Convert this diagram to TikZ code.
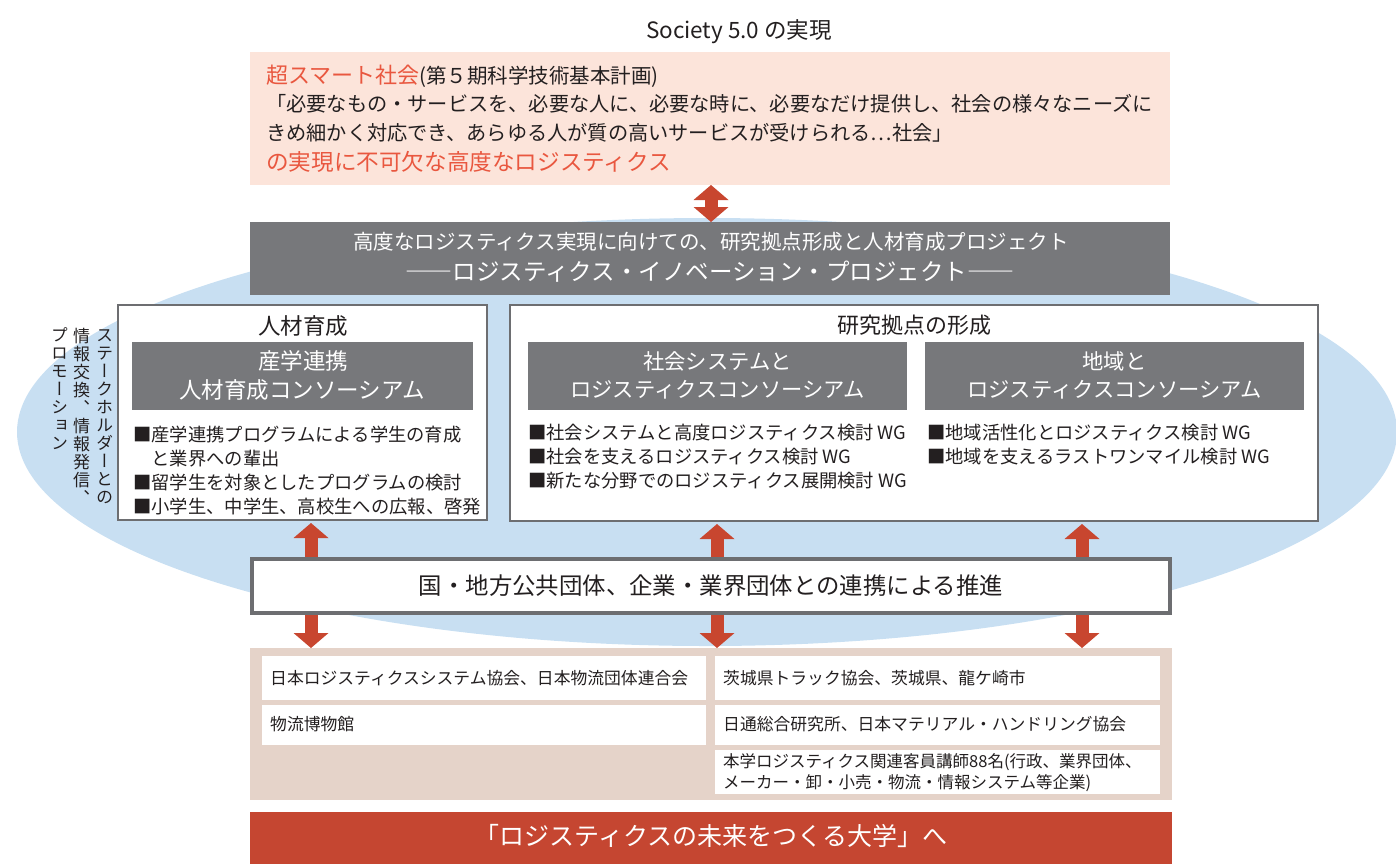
\documentclass[tikz,border=0pt]{standalone}
\usepackage{fontspec}
\usepackage{graphicx}
\setmainfont{Noto Sans CJK JP}
\newfontfamily\vjp[RawFeature=+vert]{Noto Sans CJK JP}
\usetikzlibrary{arrows.meta}
\definecolor{pinkbg}{HTML}{FCE4DA}
\definecolor{redtxt}{HTML}{E9573F}
\definecolor{arrred}{HTML}{C8462F}
\definecolor{graybox}{HTML}{77787B}
\definecolor{ellblue}{HTML}{C8DFF2}
\definecolor{beige}{HTML}{E5D3C9}
\definecolor{barred}{HTML}{C54631}
\definecolor{txt}{HTML}{231F20}
\definecolor{bordergray}{HTML}{6D6E71}
\newcommand\fsz[1]{\fontsize{#1}{#1}\selectfont}
\begin{document}
\begin{tikzpicture}[x=1pt,y=-1pt,
  rect/.style={inner sep=0pt, outer sep=0pt, rectangle},
  lbl/.style={inner sep=0pt, text=txt, anchor=west},
  clbl/.style={inner sep=0pt, text=txt, anchor=center},
  wlbl/.style={inner sep=0pt, text=white, anchor=center},
  vch/.style={inner sep=0pt, text=txt, text height=0.88em, text depth=0.12em, text width=1em, align=center, font=\vjp\fsz{17}},
  dblarr/.style={draw=arrred, line width=13pt,
     {Triangle[width=35pt,length=15pt,line width=0pt]}-{Triangle[width=35pt,length=15pt,line width=0pt]}}
]
\useasboundingbox (0,0) rectangle (1396,863);
\clip (0,0) rectangle (1396,863);

% background ellipse
\fill[ellblue] (707,432) ellipse [x radius=690, y radius=214];

% title
\node[clbl] (title) at (739,32) {\fsz{22.5}Society 5.0 の実現};

% Society box
\node[rect, fill=pinkbg, minimum width=920, minimum height=133] (soc) at (710,118.5) {};
\node[lbl] (s1) at (266,76) {\fsz{22}\textcolor{redtxt}{超スマート社会}\fsz{20.5}(第５期科学技術基本計画)};
\node[lbl] (s2) at (266,104) {\fsz{20.2}「必要なもの・サービスを、必要な人に、必要な時に、必要なだけ提供し、社会の様々なニーズに};
\node[lbl] (s3) at (266,133) {\fsz{20.2}きめ細かく対応でき、あらゆる人が質の高いサービスが受けられる…社会」};
\node[lbl, text=redtxt] (s4) at (266,162) {\fsz{22.6}の実現に不可欠な高度なロジスティクス};

% project band
\node[rect, fill=graybox, minimum width=920, minimum height=73] (band) at (710,258.5) {};
\node[wlbl] (b1) at (711,242) {\fsz{20.5}高度なロジスティクス実現に向けての、研究拠点形成と人材育成プロジェクト};
\node[wlbl] (b2) at (710,272) {\fsz{23.5}――ロジスティクス・イノベーション・プロジェクト――};

% left box
\node[rect, fill=white, draw=bordergray, line width=1.2pt, minimum width=369, minimum height=215] (lbox) at (302.5,412.5) {};
\node[clbl] (lt) at (303,326) {\fsz{22.5}人材育成};
\node[rect, fill=graybox, minimum width=341, minimum height=68] (lg) at (302.5,376) {};
\node[wlbl] (lg1) at (303,361) {\fsz{22.5}産学連携};
\node[wlbl] (lg2) at (302,390) {\fsz{22.5}人材育成コンソーシアム};
\node[lbl] (lb1) at (133,435) {\fsz{18.3}■産学連携プログラムによる学生の育成};
\node[lbl] (lb1b) at (151.3,459) {\fsz{18.3}と業界への輩出};
\node[lbl] (lb2) at (133,483) {\fsz{18.3}■留学生を対象としたプログラムの検討};
\node[lbl] (lb3) at (133,507) {\fsz{18.3}■小学生、中学生、高校生への広報、啓発};

% right box
\node[rect, fill=white, draw=bordergray, line width=1.2pt, minimum width=808, minimum height=216] (rbox) at (914,413) {};
\node[clbl] (rt) at (914,325) {\fsz{22}研究拠点の形成};
\node[rect, fill=graybox, minimum width=379, minimum height=68] (rg1) at (717.5,376) {};
\node[wlbl] (rg1a) at (717.5,361) {\fsz{21.3}社会システムと};
\node[wlbl] (rg1b) at (717.5,390) {\fsz{21.3}ロジスティクスコンソーシアム};
\node[rect, fill=graybox, minimum width=379, minimum height=68] (rg2) at (1114.5,376) {};
\node[wlbl] (rg2a) at (1114.5,361) {\fsz{21.3}地域と};
\node[wlbl] (rg2b) at (1114.5,390) {\fsz{21.3}ロジスティクスコンソーシアム};
\node[lbl] (rb1) at (528,433) {\fsz{18.3}■社会システムと高度ロジスティクス検討 WG};
\node[lbl] (rb2) at (528,457) {\fsz{18.3}■社会を支えるロジスティクス検討 WG};
\node[lbl] (rb3) at (528,481) {\fsz{18.3}■新たな分野でのロジスティクス展開検討 WG};
\node[lbl] (rb4) at (927,433) {\fsz{18.3}■地域活性化とロジスティクス検討 WG};
\node[lbl] (rb5) at (927,457) {\fsz{18.3}■地域を支えるラストワンマイル検討 WG};

% vertical side text
\foreach \c [count=\i from 0] in {ス,テ,ー,ク,ホ,ル,ダ,ー,と,の}
  {\node[vch] (va\i) at (101,338+\i*18) {\c};}
\foreach \c [count=\i from 0] in {情,報,交,換,、,情,報,発,信,、}
  {\node[vch] (vb\i) at (78,339+\i*18) {\c};}
\foreach \c [count=\i from 0] in {プ,ロ,モ,ー,シ,ョ,ン}
  {\node[vch] (vc\i) at (56,338+\i*18) {\c};}

% beige panel
\node[rect, fill=beige, minimum width=922, minimum height=152] (beige) at (711,724) {};
\node[rect, fill=white, minimum width=444, minimum height=44] (w1) at (484,678) {};
\node[rect, fill=white, minimum width=444, minimum height=40] (w2) at (484,725) {};
\node[rect, fill=white, minimum width=445, minimum height=44] (w3) at (937.5,678) {};
\node[rect, fill=white, minimum width=445, minimum height=40] (w4) at (937.5,725) {};
\node[rect, fill=white, minimum width=445, minimum height=44] (w5) at (937.5,772) {};
\node[lbl] (t1) at (270,678) {\fsz{16.8}日本ロジスティクスシステム協会、日本物流団体連合会};
\node[lbl] (t2) at (270,724) {\fsz{16.8}物流博物館};
\node[lbl] (t3) at (723,678) {\fsz{16.8}茨城県トラック協会、茨城県、龍ケ崎市};
\node[lbl] (t4) at (723,724) {\fsz{16.8}日通総合研究所、日本マテリアル・ハンドリング協会};
\node[lbl] (t5) at (723,762) {\fsz{16.5}本学ロジスティクス関連客員講師88名(行政、業界団体、};
\node[lbl] (t6) at (723,783) {\fsz{16.5}メーカー・卸・小売・物流・情報システム等企業)};

% arrows
\coordinate (ax0) at (711,0);
\coordinate (ax1) at (311,0);
\coordinate (ax2) at (717,0);
\coordinate (ax3) at (1082,0);
\draw[dblarr] (soc.south -| ax0) -- (band.north -| ax0);
\draw[dblarr] ([yshift=-3pt]lbox.south -| ax1) -- (beige.north -| ax1);
\draw[dblarr] ([yshift=-3pt]rbox.south -| ax2) -- (beige.north -| ax2);
\draw[dblarr] ([yshift=-3pt]rbox.south -| ax3) -- (beige.north -| ax3);

% cooperation box
\node[rect, fill=white, draw=bordergray, line width=4pt, minimum width=918, minimum height=54] (coop) at (711,586) {};
\node[clbl] (coopt) at (711,586) {\fsz{23.4}国・地方公共団体、企業・業界団体との連携による推進};

% bottom bar
\node[rect, fill=barred, minimum width=922, minimum height=52] (bar) at (711,838) {};
\node[wlbl] (bart) at (711,836) {\fsz{25}「ロジスティクスの未来をつくる大学」へ};
\end{tikzpicture}
\end{document}
